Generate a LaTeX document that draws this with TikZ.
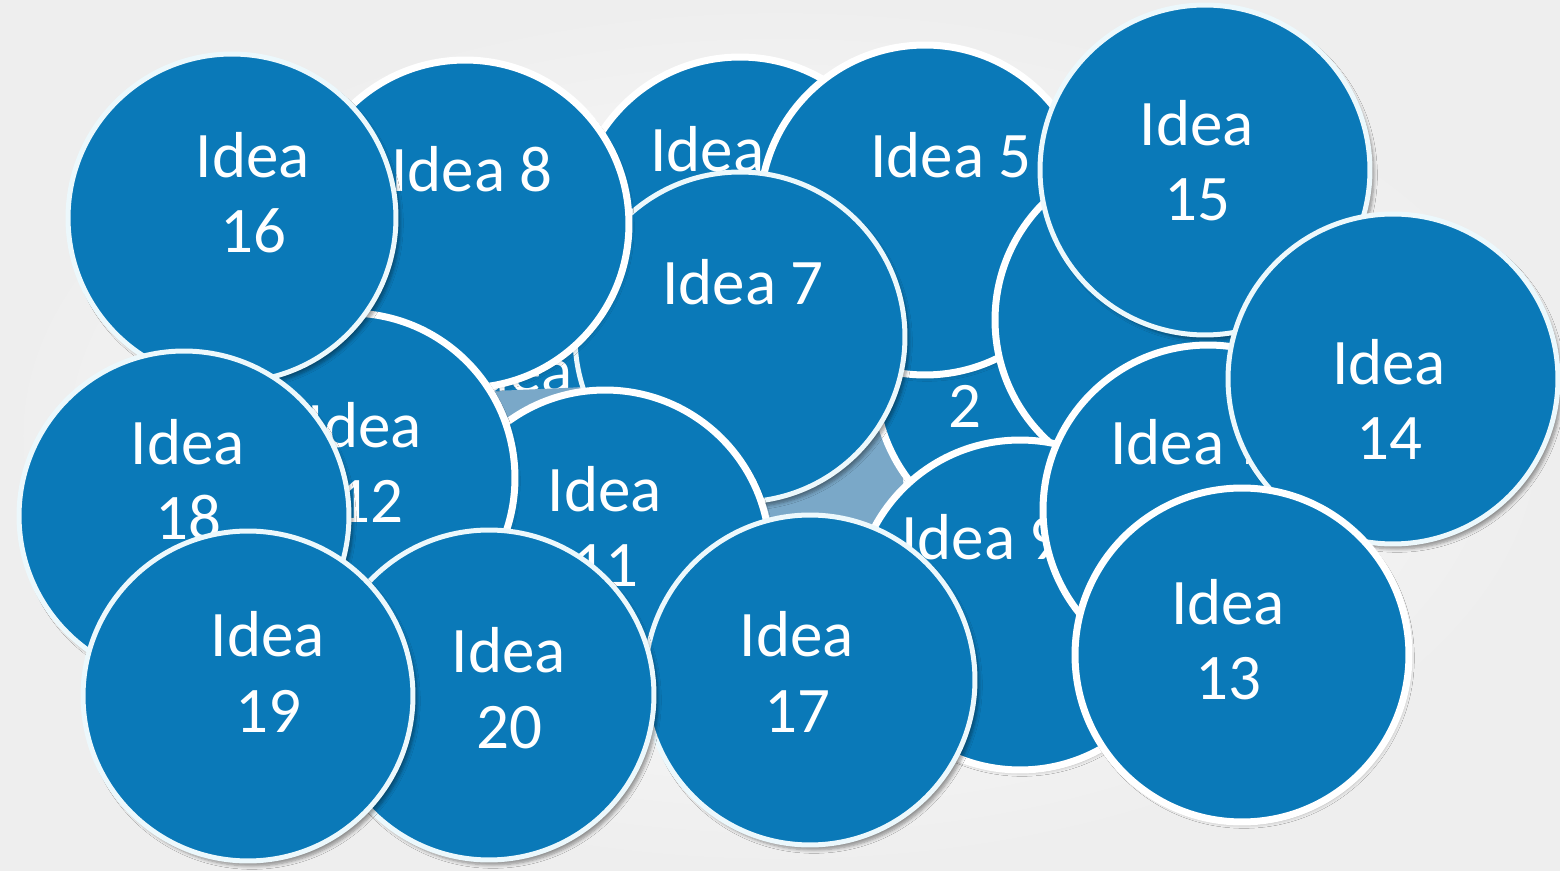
\documentclass[tikz,border=0pt]{standalone}
\usepackage{fontspec}
\setmainfont{Carlito}
\usetikzlibrary{shadows.blur}
\definecolor{ideablue}{RGB}{10,121,184}
\definecolor{lightblue}{RGB}{122,168,200}
\definecolor{bggray}{RGB}{238,238,238}
\definecolor{softedge}{RGB}{236,248,252}
\begin{document}
\begin{tikzpicture}[x=0.02cm,y=-0.02cm,
  bubble/.style={circle, fill=ideablue, inner sep=0pt, minimum size=6.6cm},
  crisp/.style={bubble, draw=white, line width=0.14cm,
    blur shadow={shadow xshift=0.04cm, shadow yshift=-0.06cm, shadow opacity=25, shadow blur steps=5}},
  soft/.style={bubble, draw=softedge, line width=0.1cm,
    blur shadow={shadow xshift=0.08cm, shadow yshift=-0.1cm, shadow opacity=40, shadow blur steps=6}},
  idea/.style={text=white, font=\fontsize{37}{44}\selectfont, anchor=base, inner sep=0pt}]

\useasboundingbox (0,0) rectangle (1560,871);
\shade[inner color=white, outer color=bggray] (0,0) rectangle (1560,871);

% bottom layers
\node[crisp, minimum size=6.4cm] (c3) at (525,440) {};
\node[idea] (t3a) at (516,393) {Idea};
\node[idea] (t3b) at (516,468) {3};

\fill[lightblue] (470,392) -- (565,388) -- (700,380) -- (860,380) -- (900,440)
  -- (905,505) -- (860,545) -- (700,545) -- (480,450) -- cycle;

\node[crisp] (c6) at (740,222) {};
\node[idea] (t6) at (731,172) {Idea 6};

\node[crisp] (c2) at (1040,380) {};
\node[idea] (t2a) at (965,353) {Idea};
\node[idea] (t2b) at (965,428) {2};

\node[crisp] (c5) at (925,210) {};
\node[idea] (t5) at (951,178) {Idea 5};

\node[crisp] (c4) at (1160,320) {};
\node[idea] (t4) at (1170,280) {Idea 4};

\node[soft] (c15) at (1205,170) {};
\node[idea] (t15a) at (1197,146) {Idea};
\node[idea] (t15b) at (1197,221) {15};

\node[crisp] (c9) at (1020,605) {};
\node[idea] (t9) at (982,560) {Idea 9};

\node[crisp] (c1) at (1208,510) {};
\node[idea] (t1) at (1191,465) {Idea 1};

\node[soft] (c14) at (1393,379) {};
\node[idea] (t14a) at (1389,385) {Idea};
\node[idea] (t14b) at (1389,460) {14};

\node[crisp, minimum size=6.68cm] (c13) at (1242,655) {};
\node[idea] (t13a) at (1228,625) {Idea};
\node[idea] (t13b) at (1228,700) {13};

\node[soft] (c7) at (740,337) {};
\node[idea] (t7) at (743,305) {Idea 7};

\node[crisp] (c11) at (605,555) {};
\node[idea] (t11a) at (605,512) {Idea};
\node[idea] (t11b) at (605,587) {11};

\node[crisp, minimum size=6.56cm] (c8) at (465,224) {};
\node[idea] (t8) at (472,192) {Idea 8};

\node[crisp] (c12) at (350,478) {};
\node[idea] (t12a) at (365,448) {Idea};
\node[idea] (t12b) at (370,523) {12};

\node[soft, minimum size=6.56cm] (c16) at (232,218) {};
\node[idea] (t16a) at (253,178) {Idea};
\node[idea] (t16b) at (253,253) {16};

\node[soft] (c18) at (184,516) {};
\node[idea] (t18a) at (188,465) {Idea};
\node[idea] (t18b) at (188,540) {18};

\node[soft] (c17) at (810,680) {};
\node[idea] (t17a) at (797,657) {Idea};
\node[idea] (t17b) at (797,732) {17};

\node[soft] (c20) at (489,695) {};
\node[idea] (t20a) at (509,673) {Idea};
\node[idea] (t20b) at (509,748) {20};

\node[soft] (c19) at (248,696) {};
\node[idea] (t19a) at (268,657) {Idea};
\node[idea] (t19b) at (268,732) {19};
\end{tikzpicture}
\end{document}
